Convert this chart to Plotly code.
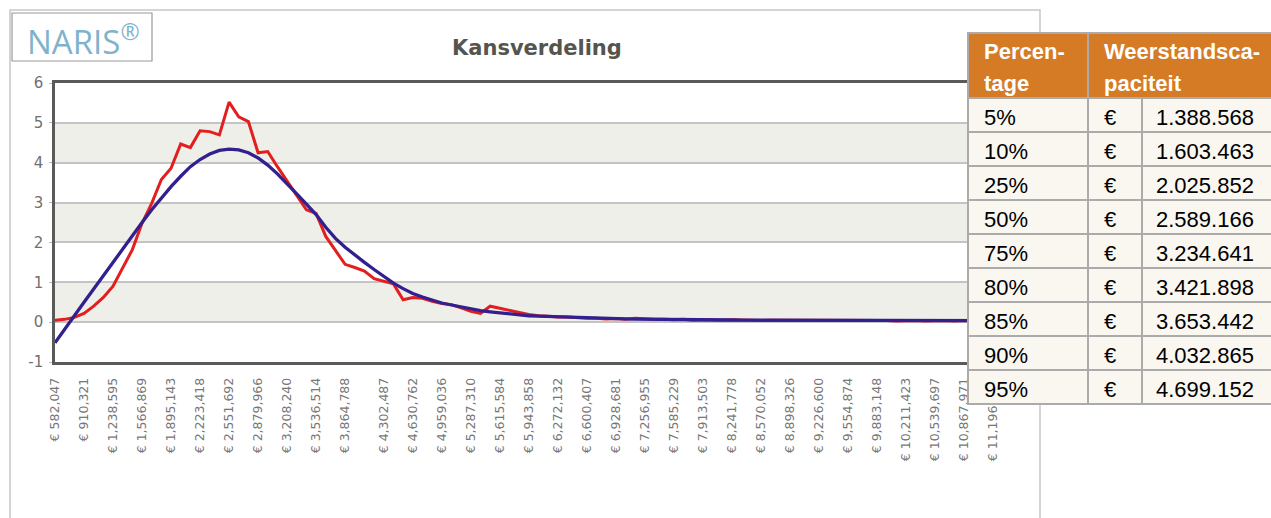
import plotly.graph_objects as go

# ---------------- data ----------------
first_amount = 582047
bin_width = 109424.67
red_values = [
    0.05, 0.07, 0.12, 0.22, 0.40, 0.62, 0.90, 1.35, 1.82, 2.48,
    2.98, 3.58, 3.86, 4.47, 4.38, 4.80, 4.78, 4.70, 5.52, 5.15,
    5.03, 4.25, 4.28, 3.90, 3.55, 3.20, 2.82, 2.73, 2.15, 1.80,
    1.45, 1.37, 1.28, 1.09, 1.03, 0.96, 0.56, 0.62, 0.60, 0.52,
    0.47, 0.44, 0.36, 0.27, 0.22, 0.40, 0.35, 0.29, 0.24, 0.19,
    0.16, 0.15, 0.13, 0.13, 0.11, 0.10, 0.10, 0.08, 0.09, 0.07,
    0.10, 0.08, 0.07, 0.07, 0.06, 0.07, 0.05, 0.06, 0.05, 0.05,
    0.06, 0.05, 0.05, 0.04, 0.05, 0.05, 0.04, 0.05, 0.04, 0.05,
    0.04, 0.05, 0.04, 0.04, 0.05, 0.04, 0.04, 0.03, 0.04, 0.04,
    0.03, 0.04, 0.04, 0.03, 0.04, 0.03, 0.04, 0.03,
]
blue_values = [
    -0.52, -0.17, 0.15, 0.50, 0.83, 1.17, 1.50, 1.84, 2.18, 2.50,
    2.82, 3.12, 3.40, 3.66, 3.90, 4.08, 4.22, 4.31, 4.34, 4.32,
    4.25, 4.12, 3.94, 3.72, 3.48, 3.22, 2.96, 2.70, 2.38, 2.10,
    1.88, 1.68, 1.50, 1.32, 1.14, 0.98, 0.84, 0.72, 0.63, 0.55,
    0.48, 0.43, 0.38, 0.33, 0.29, 0.26, 0.23, 0.20, 0.18, 0.16,
    0.15, 0.14, 0.13, 0.12, 0.11, 0.10, 0.095, 0.09, 0.085, 0.08,
    0.076, 0.072, 0.069, 0.066, 0.063, 0.060, 0.058, 0.057, 0.056, 0.055,
    0.054, 0.053, 0.052, 0.051, 0.050, 0.050, 0.049, 0.048, 0.048, 0.047,
    0.046, 0.046, 0.045, 0.045, 0.044, 0.044, 0.043, 0.043, 0.042, 0.042,
    0.041, 0.041, 0.040, 0.040, 0.040, 0.039, 0.039, 0.038,
]
amounts = [first_amount + i * bin_width for i in range(len(red_values))]

tick_amounts = [582047, 910321, 1238595, 1566869, 1895143, 2223418, 2551692,
                2879966, 3208240, 3536514, 3864788, 4302487, 4630762, 4959036,
                5287310, 5615584, 5943858, 6272132, 6600407, 6928681, 7256955,
                7585229, 7913503, 8241778, 8570052, 8898326, 9226600, 9554874,
                9883148, 10211423, 10539697, 10867971, 11196245]
tick_labels = ["€ " + f"{v:,}" for v in tick_amounts]

y_ticks = [-1, 0, 1, 2, 3, 4, 5, 6]
y_tick_labels = ["-1", "0", "1", "2", "3", "4", "5", "6"]

percentages = ["5%", "10%", "25%", "50%", "75%", "80%", "85%", "90%", "95%"]
capacities = ["1.388.568", "1.603.463", "2.025.852", "2.589.166", "3.234.641",
              "3.421.898", "3.653.442", "4.032.865", "4.699.152"]

title_text = "Kansverdeling"
header_1 = ["Percen-", "tage"]
header_2 = ["Weerstandsca-", "paciteit"]

# ---------------- geometry helpers (pixels -> paper) ----------------
W_FIG, H_FIG = 1271, 518
PL, PR, PT, PB = 55, 1022, 83, 362


def px(x):
    return (x - PL) / (PR - PL)


def py(y):
    return (PB - y) / (PB - PT)


fig = go.Figure()
fig.add_trace(go.Scatter(x=amounts, y=red_values, mode="lines",
                         line=dict(color="#e31e1e", width=3), hoverinfo="skip"))
fig.add_trace(go.Scatter(x=amounts, y=blue_values, mode="lines",
                         line=dict(color="#33208f", width=3.3), hoverinfo="skip"))

shapes = []
# outer panel frame
shapes.append(dict(type="rect", xref="paper", yref="paper", x0=px(10), x1=px(1040),
                   y0=py(540), y1=py(10), line=dict(color="#c8c8c8", width=1.5),
                   fillcolor="rgba(0,0,0,0)", layer="below"))
# logo box
shapes.append(dict(type="rect", xref="paper", yref="paper", x0=px(12), x1=px(152),
                   y0=py(61), y1=py(13), line=dict(color="#9a9a9a", width=1.2),
                   fillcolor="white", layer="above"))
# background bands
for lo in (0, 2, 4):
    shapes.append(dict(type="rect", xref="paper", yref="y", x0=0, x1=1, y0=lo, y1=lo + 1,
                       fillcolor="#efefe9", line=dict(width=0), layer="below"))

# table
border = dict(color="#ababab", width=2)
TX = [968, 1088, 1142, 1280]
HT, HB = 33, 98
ROW_H = 34
shapes.append(dict(type="rect", xref="paper", yref="paper", x0=px(TX[0]), x1=px(TX[1]),
                   y0=py(HB), y1=py(HT), fillcolor="#d57b25", line=border, layer="above"))
shapes.append(dict(type="rect", xref="paper", yref="paper", x0=px(TX[1]), x1=px(TX[3]),
                   y0=py(HB), y1=py(HT), fillcolor="#d57b25", line=border, layer="above"))
for i in range(len(percentages)):
    y0 = HB + i * ROW_H
    for c in range(3):
        shapes.append(dict(type="rect", xref="paper", yref="paper", x0=px(TX[c]), x1=px(TX[c + 1]),
                           y0=py(y0 + ROW_H), y1=py(y0), fillcolor="#faf6f0", line=border,
                           layer="above"))

annotations = []
annotations.append(dict(x=px(25), y=py(39), xref="paper", yref="paper",
                        text="NARIS<sup>®</sup>", showarrow=False, xanchor="left", yanchor="middle",
                        font=dict(family="Open Sans", size=33, color="#7fb3cd")))
annotations.append(dict(x=px(537), y=py(48), xref="paper", yref="paper", text=title_text,
                        showarrow=False, xanchor="center", yanchor="middle",
                        font=dict(family="DejaVu Sans", size=21, color="#55554d", weight="bold")))
for j, (t1, t2) in enumerate(zip(header_1, header_2)):
    yy = 52 + j * 31
    annotations.append(dict(x=px(982), y=py(yy), xref="paper", yref="paper", text=t1,
                            showarrow=False, xanchor="left", yanchor="middle",
                            font=dict(family="Liberation Sans", size=22, color="white", weight="bold")))
    annotations.append(dict(x=px(1102), y=py(yy), xref="paper", yref="paper", text=t2,
                            showarrow=False, xanchor="left", yanchor="middle",
                            font=dict(family="Liberation Sans", size=22, color="white", weight="bold")))
for i, (p, v) in enumerate(zip(percentages, capacities)):
    yc = HB + i * ROW_H + ROW_H / 2 + 2
    annotations.append(dict(x=px(982), y=py(yc), xref="paper", yref="paper", text=p,
                            showarrow=False, xanchor="left", yanchor="middle",
                            font=dict(family="Liberation Sans", size=22, color="black")))
    annotations.append(dict(x=px(1110), y=py(yc), xref="paper", yref="paper", text="€",
                            showarrow=False, xanchor="center", yanchor="middle",
                            font=dict(family="Liberation Sans", size=22, color="black")))
    annotations.append(dict(x=px(1256), y=py(yc), xref="paper", yref="paper", text=v,
                            showarrow=False, xanchor="right", yanchor="middle",
                            font=dict(family="Liberation Sans", size=22, color="black")))

fig.update_layout(
    width=W_FIG, height=H_FIG,
    margin=dict(l=PL, r=W_FIG - PR, t=PT, b=H_FIG - PB, pad=0),
    paper_bgcolor="white", plot_bgcolor="white",
    showlegend=False,
    shapes=shapes, annotations=annotations,
    xaxis=dict(range=[first_amount, first_amount + 100 * bin_width],
               tickmode="array", tickvals=tick_amounts, ticktext=tick_labels,
               tickangle=-90, tickfont=dict(family="DejaVu Sans", size=12.5, color="#777777"),
               showgrid=False, zeroline=False, showline=True, mirror=True,
               linecolor="#5a5a5a", linewidth=2.5, ticks="", ticklabelstandoff=8),
    yaxis=dict(range=[-1, 6], tickmode="array", tickvals=y_ticks, ticktext=y_tick_labels,
               tickfont=dict(family="DejaVu Sans", size=15, color="#707070"),
               showgrid=True, gridcolor="#c4c4c4", gridwidth=1.5, zeroline=False,
               showline=True, mirror=True, linecolor="#5a5a5a", linewidth=2.5,
               ticks="outside", ticklen=3, tickcolor="#bbbbbb", ticklabelstandoff=3),
)

fig.write_html("out.html", config={"displayModeBar": False},
               post_script="document.body.style.margin='0px';")
